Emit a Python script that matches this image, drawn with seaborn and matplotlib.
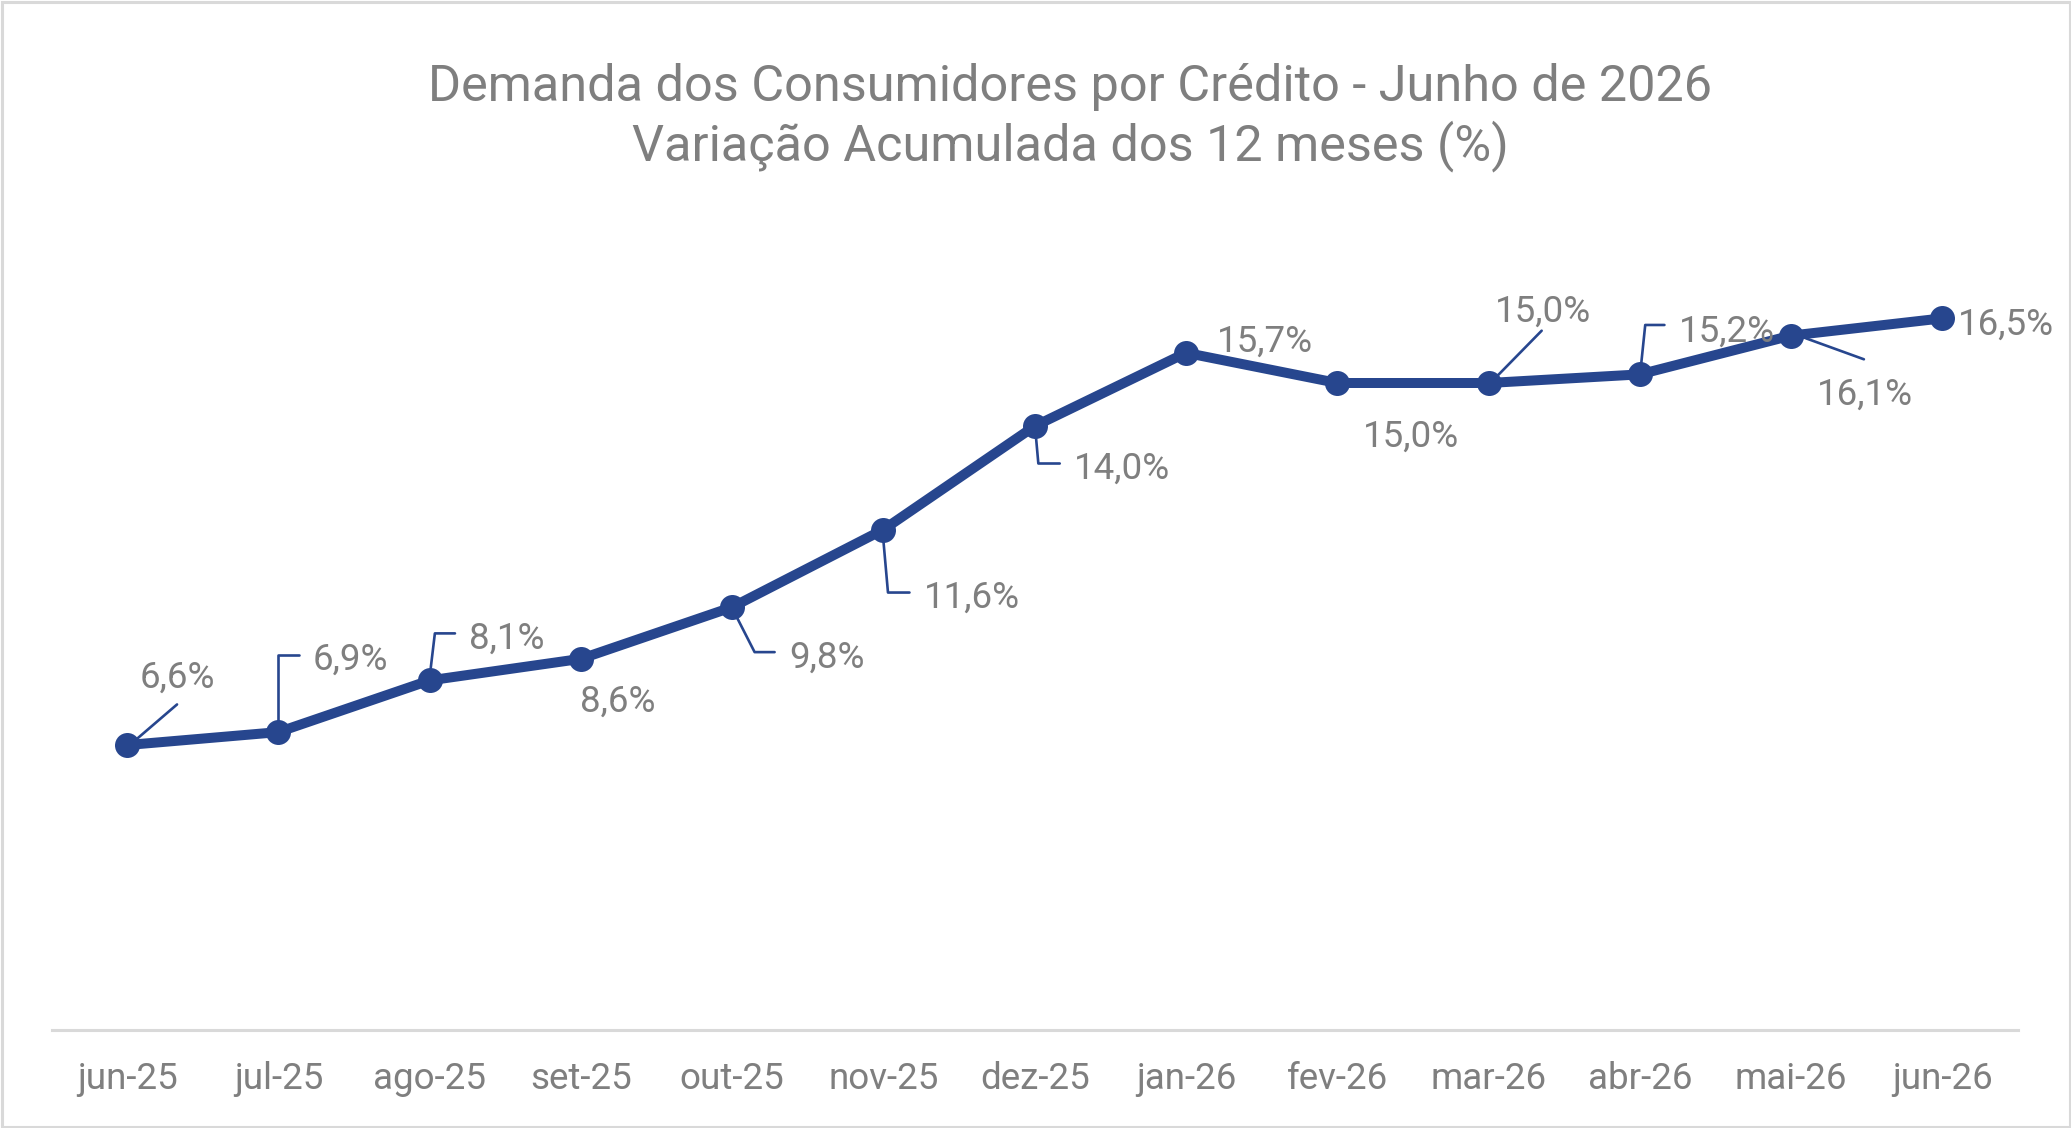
import matplotlib
matplotlib.use("Agg")
import matplotlib.pyplot as plt
import seaborn as sns
import pandas as pd
from matplotlib.lines import Line2D
from matplotlib.patches import Rectangle
from matplotlib.transforms import IdentityTransform

# ---- data ----
months = ["jun-25", "jul-25", "ago-25", "set-25", "out-25", "nov-25", "dez-25",
          "jan-26", "fev-26", "mar-26", "abr-26", "mai-26", "jun-26"]
values = [6.6, 6.9, 8.1, 8.6, 9.8, 11.6, 14.0, 15.7, 15.0, 15.0, 15.2, 16.1, 16.5]
value_labels = ["6,6%", "6,9%", "8,1%", "8,6%", "9,8%", "11,6%", "14,0%",
                "15,7%", "15,0%", "15,0%", "15,2%", "16,1%", "16,5%"]
title_line1 = "Demanda dos Consumidores por Crédito - Junho de 2026"
title_line2 = "Variação Acumulada dos 12 meses (%)"

# ---- layout (pixel offsets from each point, x right / y down) ----
label_offsets = [(50.7, -72), (72.1, -77), (77.2, -46.5), (37, 38.2), (94.4, 45.7),
                 (88.4, 63), (87.6, 37.4), (78.8, -16), (74, 49.2), (54.1, -76),
                 (86.8, -47.7), (73.8, 53.7), (64, 1.3)]
leaders = [
    [(10.3, -6.6), (49.9, -40.6)],
    [(0, -11.7), (0, -77), (20.1, -77)],
    [(1.1, -12.7), (5.2, -47), (25.3, -47)],
    None,
    [(4.4, 9.7), (22.4, 45), (42.4, 45)],
    [(0, 12), (4.5, 63), (26, 63)],
    [(1.2, 10.7), (3.6, 37.4), (25, 37.4)],
    None,
    None,
    [(7.4, -5.7), (53.1, -52.3)],
    [(1.5, -11.7), (5.4, -49.4), (24.6, -49.4)],
    [(14.8, 2.7), (72.8, 23.7)],
    None,
]

BLUE = "#27468E"
GRAY = "#7F7F7F"
LIGHT = "#D9D9D9"

sns.set_theme(style="white")
plt.rcParams['font.family'] = ['Roboto', 'DejaVu Sans']

W, H = 2071, 1128
fig = plt.figure(figsize=(W / 100, H / 100), dpi=100)
fig.patch.set_facecolor("white")
ax_bottom_px = 1029.5
ax_top_px = ax_bottom_px - 18 * 43.1
ax = fig.add_axes([51.5 / W, 1 - ax_bottom_px / H, (2018 - 51.5) / W,
                   (ax_bottom_px - ax_top_px) / H])

df = pd.DataFrame({"pos": list(range(len(months))), "valor": values})
sns.lineplot(data=df, x="pos", y="valor", ax=ax, color=BLUE, linewidth=7.2,
             marker="o", markersize=18, markeredgewidth=0, markerfacecolor=BLUE)

ax.set_xlim(-0.5, 12.5)
ax.set_ylim(0, 18)
ax.set_xticks(range(len(months)))
ax.set_xticklabels(months)
ax.set_yticks([])
ax.set_xlabel("")
ax.set_ylabel("")
for s in ["left", "right", "top"]:
    ax.spines[s].set_visible(False)
ax.spines["bottom"].set_color(LIGHT)
ax.spines["bottom"].set_linewidth(2.2)
ax.tick_params(axis="x", length=0, pad=23, labelsize=26.5, labelcolor=GRAY)
ax.set_facecolor("white")

# data labels + leader lines
for i, (v, lab) in enumerate(zip(values, value_labels)):
    px, py = ax.transData.transform((i, v))
    dx, dy = label_offsets[i]
    ax.annotate(lab, xy=(i, v), xytext=(dx, -(dy + 15)), textcoords="offset pixels",
                ha="center", va="baseline", fontsize=26.5, color=GRAY)
    if leaders[i] is not None:
        xs = [px + ox for ox, oy in leaders[i]]
        ys = [py - oy for ox, oy in leaders[i]]
        fig.add_artist(Line2D(xs, ys, transform=IdentityTransform(), color=BLUE, lw=1.9))

# title
fig.text(1070 / W, 1 - 101 / H, title_line1, ha="center", va="baseline",
         fontsize=36.3, color=GRAY)
fig.text(1070 / W, 1 - 160 / H, title_line2, ha="center", va="baseline",
         fontsize=36.3, color=GRAY)

# chart border
fig.add_artist(Rectangle((1.5 / W, 1.5 / H), 1 - 3 / W, 1 - 3 / H, transform=fig.transFigure,
                         fill=False, edgecolor=LIGHT, lw=2.2))

fig.savefig("out.png", dpi=100, facecolor="white")
